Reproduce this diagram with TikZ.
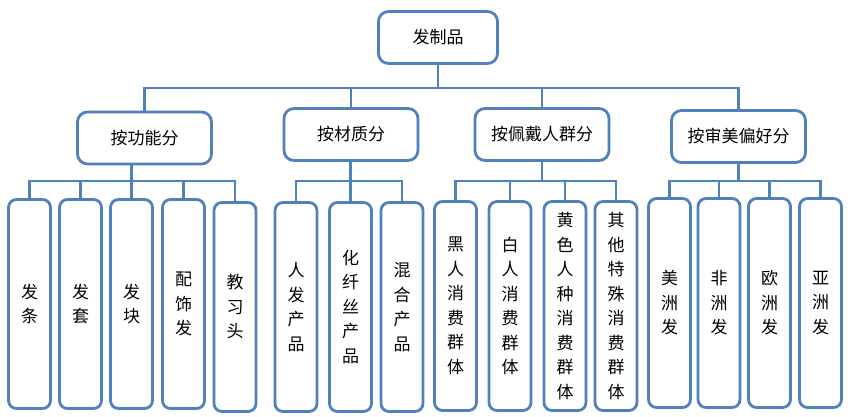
\documentclass[tikz,border=0pt]{standalone}
\usepackage{fontspec}
\setmainfont{Noto Sans CJK SC}
\definecolor{boxblue}{RGB}{79,129,189}
\tikzset{
  box/.style={draw=boxblue, line width=2.8pt, rounded corners=10pt, fill=white, inner sep=0pt, font=\fontsize{17}{20}\selectfont},
  topbox/.style={box, minimum width=119pt, minimum height=52pt},
  midbox/.style={box, minimum width=134pt, minimum height=52pt},
  leaf/.style={box, rounded corners=8pt, minimum width=42pt, minimum height=209pt, align=center, font=\fontsize{17}{24.5}\selectfont},
  link/.style={draw=boxblue, line width=2.8pt}
}
\begin{document}
\begin{tikzpicture}[x=1pt, y=-1pt]
        \useasboundingbox (0,0) rectangle (848,417);
        % top
        \node[topbox] (root) at (438,37.5) {发制品};
        \node[midbox] (func) at (144.5,138) {按功能分};
        \node[midbox] (mat) at (351,134.5) {按材质分};
        \node[midbox] (crowd) at (542,134.5) {按佩戴人群分};
        \node[midbox] (taste) at (738.5,136.5) {按审美偏好分};
        % leaves
        \node[leaf] (f1) at (29.5,304) {发\\条};
        \node[leaf] (f2) at (80.5,304) {发\\套};
        \node[leaf] (f3) at (131.5,304) {发\\块};
        \node[leaf] (f4) at (183.5,304) {配\\饰\\发};
        \node[leaf] (f5) at (235,307) {教\\习\\头};
        \node[leaf] (m1) at (296,307) {人\\发\\产\\品};
        \node[leaf] (m2) at (350.5,307) {化\\纤\\丝\\产\\品};
        \node[leaf] (m3) at (402,307) {混\\合\\产\\品};
        \node[leaf] (c1) at (455.5,306) {黑\\人\\消\\费\\群\\体};
        \node[leaf] (c2) at (510,306) {白\\人\\消\\费\\群\\体};
        \node[leaf] (c3) at (565,306) {黄\\色\\人\\种\\消\\费\\群\\体};
        \node[leaf] (c4) at (616,306) {其\\他\\特\\殊\\消\\费\\群\\体};
        \node[leaf] (t1) at (669.5,303) {美\\洲\\发};
        \node[leaf] (t2) at (719,303) {非\\洲\\发};
        \node[leaf] (t3) at (769.5,303) {欧\\洲\\发};
        \node[leaf] (t4) at (820.5,303) {亚\\洲\\发};
        % links
        \coordinate (bus) at (0,88);
        \coordinate (sub) at (0,181);
        \draw[link] (root.south) -- (root.south |- bus);
        \draw[link] (func.north) |- (taste.north |- bus) -- (taste.north);
        \draw[link] (mat.north) -- (mat.north |- bus);
        \draw[link] (crowd.north) -- (crowd.north |- bus);
        \draw[link] (f1.north) |- (f5.north |- sub) -- (f5.north);
        \draw[link] (f3.north) -- (f3.north |- func.south);
        \foreach \n in {f2,f4} \draw[link] (\n.north) -- (\n.north |- sub);
        \draw[link] (m1.north) |- (m3.north |- sub) -- (m3.north);
        \draw[link] (m2.north) -- (m2.north |- mat.south);
        \draw[link] (c1.north) |- (c4.north |- sub) -- (c4.north);
        \draw[link] (crowd.south) -- (crowd.south |- sub);
        \foreach \n in {c2,c3} \draw[link] (\n.north) -- (\n.north |- sub);
        \draw[link] (t1.north) |- (t4.north |- sub) -- (t4.north);
        \draw[link] (taste.south) -- (taste.south |- sub);
        \foreach \n in {t2,t3} \draw[link] (\n.north) -- (\n.north |- sub);
      \end{tikzpicture}
\end{document}
